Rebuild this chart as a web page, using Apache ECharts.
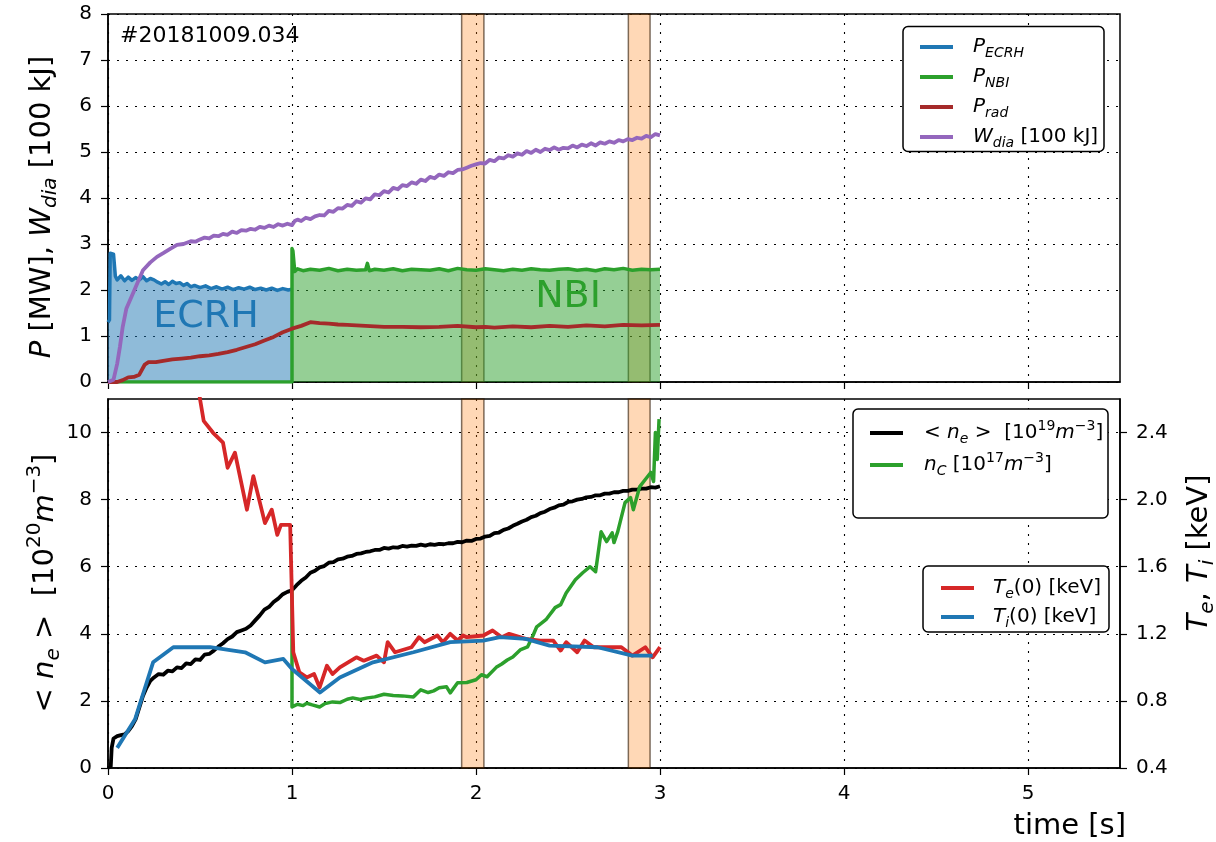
<!DOCTYPE html>
<html>
<head>
<meta charset="utf-8">
<script src="https://cdn.jsdelivr.net/npm/echarts@6/dist/echarts.min.js"></script>
<style>
html,body{margin:0;padding:0;background:#fff;}
#c{width:1216px;height:842px;}
</style>
</head>
<body>
<div id="c"></div>
<script>
// ---------- DATA (time [s], value) ----------
const shotLabel = '#20181009.034';
const xTicks = [0, 1, 2, 3, 4, 5];
const neTicks = [0, 2, 4, 6, 8, 10];
const tempTicks = [0.4, 0.8, 1.2, 1.6, 2.0, 2.4];
const bandRanges = [[1.922, 2.043], [2.828, 2.946]];
const ecrhLabelAt = [0.533, 1.41];
const nbiLabelAt = [2.5, 1.85];

const pEcrh = [[0,1.3],[0.008,1.35],[0.012,2.8],[0.03,2.78],[0.04,2.3],[0.05,2.22],[0.07,2.31],[0.09,2.2],[0.11,2.28],[0.13,2.21],[0.15,2.27],[0.17,2.22],[0.19,2.29],[0.21,2.2],[0.23,2.25],[0.25,2.22],[0.27,2.17],[0.29,2.13],[0.31,2.18],[0.33,2.12],[0.35,2.19],[0.37,2.14],[0.39,2.16],[0.41,2.1],[0.43,2.14],[0.45,2.07],[0.47,2.1],[0.5,2.05],[0.53,2.09],[0.56,2.03],[0.59,2.07],[0.62,2.02],[0.65,2.06],[0.68,2.01],[0.71,2.05],[0.74,2.02],[0.77,2.06],[0.8,2.01],[0.83,2.04],[0.86,2.0],[0.89,2.04],[0.92,1.99],[0.95,2.03],[0.98,2.0],[1.0,2.02]];

const pNbi = [[0,0],[1.0,0],[1.0,2.9],[1.005,2.85],[1.015,2.4],[1.03,2.46],[1.06,2.42],[1.1,2.45],[1.15,2.43],[1.2,2.47],[1.25,2.42],[1.3,2.45],[1.35,2.43],[1.4,2.44],[1.41,2.58],[1.42,2.42],[1.45,2.45],[1.5,2.43],[1.55,2.46],[1.6,2.42],[1.65,2.45],[1.7,2.44],[1.75,2.43],[1.8,2.46],[1.85,2.42],[1.9,2.47],[1.95,2.44],[2.0,2.43],[2.05,2.46],[2.1,2.44],[2.15,2.42],[2.2,2.45],[2.25,2.43],[2.3,2.46],[2.35,2.44],[2.4,2.43],[2.45,2.45],[2.5,2.46],[2.55,2.43],[2.6,2.45],[2.65,2.42],[2.7,2.46],[2.75,2.44],[2.8,2.47],[2.85,2.43],[2.9,2.45],[2.95,2.44],[3.0,2.45]];

const pRad = [[0,0],[0.05,0.0],[0.08,0.04],[0.11,0.1],[0.14,0.11],[0.17,0.16],[0.2,0.38],[0.22,0.43],[0.26,0.43],[0.3,0.46],[0.35,0.49],[0.4,0.51],[0.45,0.53],[0.5,0.56],[0.55,0.58],[0.6,0.61],[0.65,0.65],[0.7,0.7],[0.75,0.76],[0.8,0.82],[0.85,0.9],[0.9,0.98],[0.95,1.08],[1.0,1.16],[1.05,1.22],[1.1,1.3],[1.15,1.28],[1.2,1.27],[1.25,1.25],[1.3,1.24],[1.4,1.22],[1.5,1.2],[1.6,1.2],[1.7,1.19],[1.8,1.2],[1.9,1.22],[2.0,1.19],[2.05,1.2],[2.1,1.18],[2.2,1.21],[2.3,1.19],[2.4,1.22],[2.5,1.2],[2.6,1.23],[2.7,1.21],[2.8,1.24],[2.9,1.23],[3.0,1.24]];

const wDia = [[0,0],[0.03,0.05],[0.05,0.4],[0.065,0.77],[0.08,1.2],[0.1,1.6],[0.136,1.93],[0.16,2.15],[0.19,2.43],[0.23,2.6],[0.266,2.72],[0.3,2.8],[0.34,2.9],[0.375,2.98],[0.41,3.0],[0.45,3.06],[0.475,3.05],[0.5,3.1],[0.525,3.14],[0.55,3.12],[0.575,3.18],[0.6,3.17],[0.625,3.22],[0.65,3.2],[0.675,3.27],[0.7,3.24],[0.725,3.3],[0.75,3.29],[0.775,3.33],[0.8,3.31],[0.825,3.37],[0.85,3.35],[0.875,3.4],[0.9,3.37],[0.925,3.43],[0.95,3.4],[0.975,3.44],[1.0,3.41],[1.015,3.5],[1.03,3.53],[1.05,3.5],[1.075,3.57],[1.1,3.54],[1.125,3.6],[1.15,3.63],[1.175,3.62],[1.2,3.72],[1.225,3.7],[1.25,3.78],[1.275,3.77],[1.3,3.85],[1.325,3.83],[1.35,3.93],[1.375,3.9],[1.4,3.99],[1.425,3.97],[1.45,4.08],[1.475,4.06],[1.5,4.15],[1.525,4.12],[1.55,4.22],[1.575,4.19],[1.6,4.28],[1.625,4.26],[1.65,4.34],[1.675,4.31],[1.7,4.4],[1.725,4.37],[1.75,4.46],[1.775,4.43],[1.8,4.51],[1.825,4.48],[1.85,4.56],[1.875,4.54],[1.9,4.61],[1.925,4.62],[1.95,4.66],[1.975,4.7],[2.0,4.73],[2.025,4.76],[2.05,4.75],[2.075,4.83],[2.1,4.8],[2.125,4.88],[2.15,4.86],[2.175,4.93],[2.2,4.9],[2.225,4.97],[2.25,4.94],[2.275,5.02],[2.3,4.98],[2.325,5.05],[2.35,5.0],[2.375,5.07],[2.4,5.04],[2.425,5.1],[2.45,5.05],[2.475,5.09],[2.5,5.08],[2.525,5.14],[2.55,5.1],[2.575,5.16],[2.6,5.13],[2.625,5.19],[2.65,5.14],[2.675,5.21],[2.7,5.18],[2.725,5.23],[2.75,5.2],[2.775,5.26],[2.8,5.23],[2.825,5.28],[2.85,5.26],[2.875,5.31],[2.9,5.29],[2.925,5.35],[2.95,5.32],[2.975,5.39],[3.0,5.36]];

const neLine = [[0,0],[0.015,0.05],[0.02,0.6],[0.03,0.88],[0.05,0.95],[0.07,0.98],[0.09,1.0],[0.11,1.1],[0.13,1.25],[0.15,1.45],[0.17,1.8],[0.19,2.15],[0.21,2.4],[0.23,2.6],[0.25,2.7],[0.275,2.8],[0.3,2.78],[0.325,2.9],[0.35,2.88],[0.375,3.0],[0.4,2.98],[0.425,3.12],[0.45,3.1],[0.475,3.24],[0.5,3.22],[0.525,3.38],[0.55,3.4],[0.575,3.5],[0.6,3.62],[0.625,3.72],[0.65,3.84],[0.675,3.92],[0.7,4.05],[0.725,4.1],[0.75,4.15],[0.775,4.25],[0.8,4.4],[0.825,4.55],[0.85,4.72],[0.875,4.8],[0.9,4.95],[0.925,5.05],[0.95,5.18],[0.975,5.25],[1.0,5.3],[1.025,5.45],[1.05,5.58],[1.075,5.68],[1.1,5.82],[1.125,5.88],[1.15,5.98],[1.175,6.02],[1.2,6.12],[1.225,6.14],[1.25,6.22],[1.275,6.24],[1.3,6.3],[1.325,6.32],[1.35,6.38],[1.375,6.4],[1.4,6.44],[1.425,6.46],[1.45,6.5],[1.475,6.5],[1.5,6.56],[1.525,6.54],[1.55,6.58],[1.575,6.57],[1.6,6.62],[1.625,6.6],[1.65,6.63],[1.675,6.62],[1.7,6.66],[1.725,6.63],[1.75,6.67],[1.775,6.65],[1.8,6.68],[1.825,6.67],[1.85,6.7],[1.875,6.7],[1.9,6.74],[1.925,6.73],[1.95,6.78],[1.975,6.77],[2.0,6.83],[2.025,6.84],[2.05,6.9],[2.075,6.92],[2.1,7.0],[2.125,7.02],[2.15,7.1],[2.175,7.14],[2.2,7.22],[2.225,7.28],[2.25,7.35],[2.275,7.4],[2.3,7.48],[2.325,7.52],[2.35,7.6],[2.375,7.64],[2.4,7.72],[2.425,7.76],[2.45,7.83],[2.475,7.85],[2.5,7.93],[2.525,7.95],[2.55,8.0],[2.575,8.02],[2.6,8.07],[2.625,8.08],[2.65,8.13],[2.675,8.13],[2.7,8.18],[2.725,8.18],[2.75,8.22],[2.775,8.22],[2.8,8.26],[2.825,8.26],[2.85,8.3],[2.875,8.3],[2.9,8.33],[2.925,8.33],[2.95,8.37],[2.975,8.36],[3.0,8.4]];

const nCarbon = [[1.0,5.3],[1.0,1.82],[1.03,1.9],[1.06,1.86],[1.08,1.93],[1.11,1.88],[1.15,1.82],[1.18,1.92],[1.22,1.97],[1.26,1.95],[1.3,2.05],[1.33,2.09],[1.37,2.04],[1.41,2.09],[1.45,2.12],[1.5,2.2],[1.55,2.16],[1.6,2.15],[1.66,2.12],[1.7,2.33],[1.74,2.25],[1.77,2.3],[1.8,2.39],[1.84,2.42],[1.86,2.24],[1.9,2.54],[1.95,2.55],[2.0,2.63],[2.03,2.78],[2.06,2.72],[2.11,3.0],[2.14,3.1],[2.17,3.22],[2.2,3.31],[2.24,3.52],[2.28,3.61],[2.31,3.95],[2.33,4.21],[2.38,4.42],[2.43,4.78],[2.46,4.87],[2.49,5.22],[2.54,5.61],[2.58,5.82],[2.62,6.0],[2.65,5.85],[2.68,7.04],[2.71,6.75],[2.74,7.01],[2.75,6.72],[2.77,7.04],[2.81,7.91],[2.84,8.06],[2.855,7.7],[2.89,8.39],[2.92,8.6],[2.95,8.81],[2.965,8.54],[2.975,10.0],[2.985,9.2],[2.995,10.4]];

const teCore = [[0.45,3.0],[0.5,2.6],[0.52,2.47],[0.57,2.4],[0.625,2.34],[0.65,2.19],[0.69,2.28],[0.755,1.94],[0.79,2.14],[0.853,1.86],[0.89,1.94],[0.92,1.79],[0.94,1.85],[0.99,1.85],[1.007,1.09],[1.04,0.97],[1.08,0.94],[1.12,0.96],[1.15,0.88],[1.19,1.01],[1.22,0.96],[1.26,1.0],[1.35,1.06],[1.39,1.04],[1.46,1.07],[1.5,1.03],[1.52,1.15],[1.56,1.09],[1.65,1.12],[1.69,1.18],[1.72,1.15],[1.79,1.19],[1.82,1.15],[1.86,1.2],[1.9,1.16],[1.93,1.19],[1.95,1.18],[2.04,1.19],[2.09,1.22],[2.14,1.18],[2.18,1.2],[2.27,1.17],[2.35,1.16],[2.42,1.16],[2.46,1.1],[2.49,1.15],[2.55,1.09],[2.59,1.16],[2.64,1.12],[2.71,1.12],[2.79,1.12],[2.85,1.07],[2.92,1.12],[2.96,1.06],[3.0,1.12]];

const tiCore = [[0.05,0.52],[0.147,0.69],[0.245,1.03],[0.355,1.12],[0.555,1.12],[0.745,1.09],[0.853,1.03],[0.953,1.05],[1.0,0.99],[1.152,0.85],[1.26,0.94],[1.44,1.03],[1.66,1.09],[1.86,1.15],[2.04,1.16],[2.13,1.18],[2.27,1.17],[2.4,1.13],[2.66,1.12],[2.85,1.07],[2.96,1.07]];

// ---------- STYLE ----------
const FF = 'DejaVu Sans';
const C = {blue:'#1f77b4', green:'#2ca02c', brown:'#a52a2a', purple:'#9467bd', red:'#d62728', black:'#000000'};

function richSet(base) {
  const sub = Math.round(base * 0.7);
  return {
    m:  {fontFamily: FF, fontSize: base, lineHeight: base + 2, color: '#000'},
    i:  {fontFamily: FF, fontSize: base, lineHeight: base + 2, fontStyle: 'italic', color: '#000'},
    s:  {fontFamily: FF, fontSize: sub, lineHeight: sub, fontStyle: 'italic', color: '#000', padding: [Math.round(base * 0.6), 0, 0, 0]},
    su: {fontFamily: FF, fontSize: sub, lineHeight: sub, color: '#000', padding: [0, 0, Math.round(base * 0.7), 0]}
  };
}
const legendRich = richSet(20);
const axisRich = richSet(29);

const legendText = {
  'P_ECRH': '{i|P}{s|ECRH}',
  'P_NBI': '{i|P}{s|NBI}',
  'P_rad': '{i|P}{s|rad}',
  'W_dia': '{i|W}{s|dia}{m| [100 kJ]}',
  'ne': '{m|< }{i|n}{s|e}{m| >  [10}{su|19}{i|m}{su|−3}{m|]}',
  'nC': '{i|n}{s|C}{m| [10}{su|17}{i|m}{su|−3}{m|]}',
  'Te': '{i|T}{s|e}{m|(0) [keV]}',
  'Ti': '{i|T}{s|i}{m|(0) [keV]}'
};

const dotted = {color: '#000', width: 1.1, type: [2, 7]};

function xAxisCfg(gridIndex, showLabels) {
  return {
    type: 'value', gridIndex, min: 0, max: 5.5, interval: 1,
    axisLine: {show: true, onZero: false, lineStyle: {color: '#000', width: 1.5}},
    axisTick: {show: true, length: 7, lineStyle: {color: '#000', width: 1.2}, customValues: xTicks},
    axisLabel: {show: showLabels, customValues: xTicks, fontFamily: FF, fontSize: 20, color: '#000', margin: 16},
    splitLine: {show: true, lineStyle: dotted}
  };
}

function bandSeries(xi, yi) {
  return {
    type: 'line', xAxisIndex: xi, yAxisIndex: yi, z: 6, silent: true,
    data: [[bandRanges[0][0], null]], showSymbol: false, lineStyle: {width: 0},
    markArea: {
      silent: true,
      itemStyle: {color: 'rgba(255,127,14,0.3)', borderColor: 'rgba(40,20,0,0.6)', borderWidth: 1.5},
      data: bandRanges.map(r => [{xAxis: r[0]}, {xAxis: r[1]}])
    }
  };
}

function lineSeries(name, data, color, xi, yi, width, z, extra) {
  return Object.assign({
    name, type: 'line', data, xAxisIndex: xi, yAxisIndex: yi,
    showSymbol: false, symbol: 'none', color, z,
    lineStyle: {color, width, join: 'round'}, animation: false
  }, extra || {});
}

const chart = echarts.init(document.getElementById('c'), null, {renderer: 'canvas'});

const option = {
  animation: false,
  backgroundColor: '#ffffff',
  textStyle: {fontFamily: FF},
  grid: [
    {left: 108, top: 14, width: 1012, height: 368, show: true, borderColor: '#000', borderWidth: 1.5, backgroundColor: 'transparent', containLabel: false},
    {left: 108, top: 399, width: 1012, height: 369, show: true, borderColor: '#000', borderWidth: 1.5, backgroundColor: 'transparent', containLabel: false}
  ],
  xAxis: [xAxisCfg(0, false), xAxisCfg(1, true)],
  yAxis: [
    {
      type: 'value', gridIndex: 0, min: 0, max: 8, interval: 1,
      axisLine: {show: true, lineStyle: {color: '#000', width: 1.5}},
      axisTick: {show: true, length: 7, lineStyle: {color: '#000', width: 1.2}},
      axisLabel: {fontFamily: FF, fontSize: 20, color: '#000', margin: 16},
      splitLine: {show: true, lineStyle: dotted}
    },
    {
      type: 'value', gridIndex: 1, min: 0, max: 11, interval: 2,
      axisLine: {show: true, lineStyle: {color: '#000', width: 1.5}},
      axisTick: {show: true, length: 7, lineStyle: {color: '#000', width: 1.2}, customValues: neTicks},
      axisLabel: {customValues: neTicks, fontFamily: FF, fontSize: 20, color: '#000', margin: 16},
      splitLine: {show: true, lineStyle: dotted}
    },
    {
      type: 'value', gridIndex: 1, position: 'right', min: 0.4, max: 2.6, interval: 0.4,
      axisLine: {show: true, lineStyle: {color: '#000', width: 1.5}},
      axisTick: {show: true, length: 7, lineStyle: {color: '#000', width: 1.2}, customValues: tempTicks},
      axisLabel: {customValues: tempTicks, fontFamily: FF, fontSize: 20, color: '#000', margin: 16,
        formatter: v => Number(v).toFixed(1)},
      splitLine: {show: false}
    }
  ],
  legend: [
    {
      data: ['P_ECRH', 'P_NBI', 'P_rad', 'W_dia'], orient: 'vertical', left: 915, top: 29,
      itemWidth: 33, itemHeight: 4, itemGap: 4, icon: 'rect', z: 10, selectedMode: false,
      formatter: n => legendText[n], textStyle: {rich: legendRich, padding: [0, 0, 0, 15]}
    },
    {
      data: ['ne', 'nC'], orient: 'vertical', left: 865, top: 414,
      itemWidth: 33, itemHeight: 4, itemGap: 4, icon: 'rect', z: 10, selectedMode: false,
      formatter: n => legendText[n], textStyle: {rich: legendRich, padding: [0, 0, 0, 16]}
    },
    {
      data: ['Te', 'Ti'], orient: 'vertical', left: 936, top: 570,
      itemWidth: 33, itemHeight: 4, itemGap: 3, icon: 'rect', z: 10, selectedMode: false,
      formatter: n => legendText[n], textStyle: {rich: legendRich, padding: [0, 0, 0, 14]}
    }
  ],
  series: [
    lineSeries('P_ECRH', pEcrh, C.blue, 0, 0, 3.5, 2, {
      areaStyle: {color: C.blue, opacity: 0.5},
      markPoint: {symbol: 'circle', symbolSize: 0, silent: true,
        label: {show: true, position: 'inside', formatter: 'ECRH', fontFamily: FF, fontSize: 38, color: C.blue},
        data: [{coord: ecrhLabelAt}]}
    }),
    lineSeries('P_NBI', pNbi, C.green, 0, 0, 3.5, 2, {
      areaStyle: {color: C.green, opacity: 0.5},
      markPoint: {symbol: 'circle', symbolSize: 0, silent: true,
        label: {show: true, position: 'inside', formatter: 'NBI', fontFamily: FF, fontSize: 38, color: C.green},
        data: [{coord: nbiLabelAt}]}
    }),
    lineSeries('P_rad', pRad, C.brown, 0, 0, 3.8, 3),
    lineSeries('W_dia', wDia, C.purple, 0, 0, 3.8, 3),
    bandSeries(0, 0),
    lineSeries('ne', neLine, C.black, 1, 1, 3.8, 2),
    lineSeries('nC', nCarbon, C.green, 1, 1, 3.5, 2),
    lineSeries('Te', teCore, C.red, 1, 2, 3.8, 3),
    lineSeries('Ti', tiCore, C.blue, 1, 2, 3.8, 3),
    bandSeries(1, 1)
  ],
  graphic: [
    {type: 'rect', z: 8, shape: {x: 903, y: 26.5, width: 201, height: 125, r: 5}, style: {fill: '#fff', stroke: '#000', lineWidth: 1.5}},
    {type: 'rect', z: 8, shape: {x: 853, y: 409, width: 255, height: 109, r: 5}, style: {fill: '#fff', stroke: '#000', lineWidth: 1.5}},
    {type: 'rect', z: 8, shape: {x: 923, y: 566, width: 186, height: 66, r: 5}, style: {fill: '#fff', stroke: '#000', lineWidth: 1.5}},
    {type: 'text', z: 9, x: 120, y: 36, style: {text: shotLabel, fontFamily: FF, fontSize: 22, fill: '#000', verticalAlign: 'middle', align: 'left'}},
    {type: 'text', z: 9, x: 1126, y: 826, style: {text: 'time [s]', fontFamily: FF, fontSize: 29, fill: '#000', verticalAlign: 'middle', align: 'right'}},
    {type: 'text', z: 9, x: 42, y: 207, rotation: Math.PI / 2,
      style: {text: '{i|P}{m| [MW], }{i|W}{s|dia}{m| [100 kJ]}', rich: axisRich, align: 'center', verticalAlign: 'middle'}},
    {type: 'text', z: 9, x: 45, y: 583, rotation: Math.PI / 2,
      style: {text: '{m|< }{i|n}{s|e}{m| >  [10}{su|20}{i|m}{su|−3}{m|]}', rich: axisRich, align: 'center', verticalAlign: 'middle'}},
    {type: 'text', z: 9, x: 1199, y: 553, rotation: Math.PI / 2,
      style: {text: '{i|T}{s|e}{m|, }{i|T}{s|i}{m| [keV]}', rich: axisRich, align: 'center', verticalAlign: 'middle'}}
  ]
};
chart.setOption(option);
</script>
</body>
</html>
